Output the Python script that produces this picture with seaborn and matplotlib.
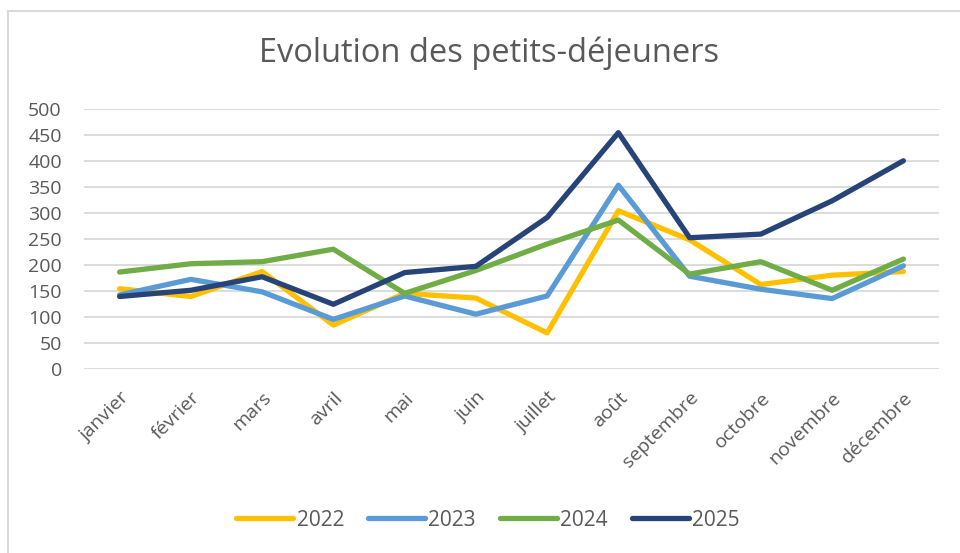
import matplotlib
matplotlib.use("Agg")
import matplotlib.pyplot as plt
import seaborn as sns
import pandas as pd
from matplotlib.lines import Line2D

months = ["janvier", "février", "mars", "avril", "mai", "juin", "juillet",
          "août", "septembre", "octobre", "novembre", "décembre"]
v2022 = [155, 140, 188, 85, 146, 137, 70, 305, 249, 163, 181, 188]
v2023 = [143, 173, 149, 96, 141, 106, 141, 354, 179, 154, 136, 199]
v2024 = [187, 203, 207, 231, 146, 190, 241, 287, 183, 207, 152, 212]
v2025 = [140, 152, 178, 125, 186, 198, 292, 455, 253, 260, 324, 401]
years = ["2022", "2023", "2024", "2025"]
colors = ["#FFC000", "#5B9BD5", "#70AD47", "#264478"]
yticks = [0, 50, 100, 150, 200, 250, 300, 350, 400, 450, 500]

rows = []
for y, vals in zip(years, [v2022, v2023, v2024, v2025]):
    for i, (m, v) in enumerate(zip(months, vals)):
        rows.append({"mois": m, "idx": i, "année": y, "valeur": v})
df = pd.DataFrame(rows)

sns.set_theme(style="white")
plt.rcParams['font.family'] = ['Open Sans', 'DejaVu Sans']

fig = plt.figure(figsize=(9.6, 5.53), dpi=100)
ax = fig.add_axes([84/960, (553-369.3)/553, (939-84)/960, 260/553])

sns.lineplot(data=df, x="idx", y="valeur", hue="année", palette=colors,
             linewidth=3.8, ax=ax, legend=False, sort=False,
             solid_capstyle="round", solid_joinstyle="round")

ax.set_xlim(-0.5, 11.5)
ax.set_ylim(0, 500)
ax.set_yticks(yticks)
ax.set_yticklabels([str(t) for t in yticks], fontsize=14, color="#595959")
ax.set_xticks(range(len(months)))
ax.set_xticklabels(months, rotation=45, ha="right", va="top", rotation_mode="anchor",
                   fontsize=14, color="#595959")
ax.tick_params(axis="y", length=0, pad=16)
ax.tick_params(axis="x", length=0, pad=14)
ax.set_xlabel("")
ax.set_ylabel("")
ax.grid(axis="y", color="#D9D9D9", linewidth=1.3)
ax.set_axisbelow(True)
for s in ax.spines.values():
    s.set_visible(False)

fig.text(489/960, 1 - 53/553, "Evolution des petits-déjeuners", ha="center",
         va="center", fontsize=23.5, color="#595959")

handles = [Line2D([0], [0], color=c, linewidth=3.8, solid_capstyle="round") for c in colors]
fig.legend(handles, years, loc="center", bbox_to_anchor=(488/960, 1 - 520/553),
           ncol=4, frameon=False, fontsize=15, labelcolor="#595959",
           handlelength=2.75, handletextpad=0.15, columnspacing=1.15)

fig.add_artist(Line2D([8/960, 8/960], [0, 1 - 11/553], transform=fig.transFigure,
                      color="#D9D9D9", linewidth=1.5))
fig.add_artist(Line2D([8/960, 1], [1 - 11/553, 1 - 11/553], transform=fig.transFigure,
                      color="#D9D9D9", linewidth=1.5))

fig.savefig("out.png", dpi=100, facecolor="white")
